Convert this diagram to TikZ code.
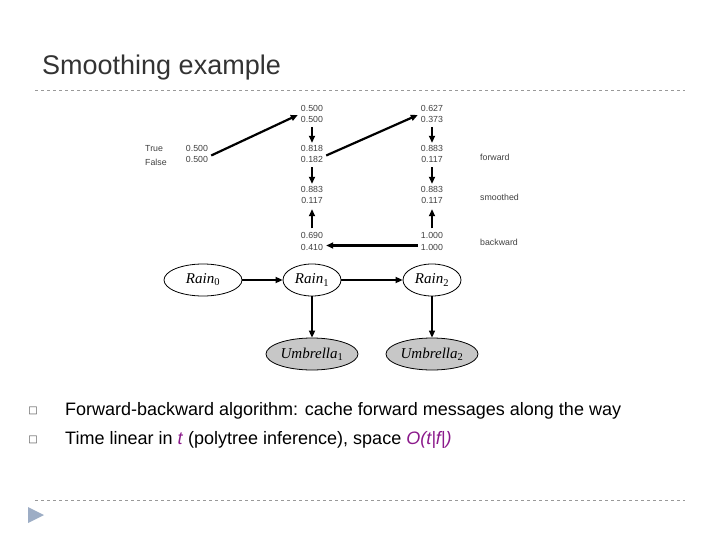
\documentclass[tikz,border=0pt]{standalone}
\usepackage{fontspec}
\setmainfont{Liberation Sans}
\newfontfamily\dejavu{DejaVu Sans}
\newfontfamily\tms{Liberation Serif}
\usetikzlibrary{shapes.geometric,arrows.meta}
\definecolor{pur}{HTML}{8B1A8B}
\definecolor{tri}{HTML}{9DADC5}
\begin{document}
\begin{tikzpicture}[x=1pt,y=-1pt,
  num/.style={font=\fontsize{8.8}{10}\selectfont, text=black!75, inner sep=0pt},
  lab/.style={font=\fontsize{8.8}{10}\selectfont, text=black!75, inner sep=0pt, anchor=west},
  arr/.style={line width=2.2pt, -{Triangle[length=7pt,width=6pt]}},
  rv/.style={ellipse, draw, line width=0.8pt, minimum width=80pt, minimum height=32pt, inner sep=0pt, font=\tms\itshape\fontsize{15}{16}\selectfont},
  ev/.style={rv, fill=black!22, minimum width=92pt},
  bul/.style={font=\fontsize{18}{20}\selectfont, anchor=west, inner sep=0pt}]
\useasboundingbox (0,0) rectangle (720,540);
\node[anchor=west, inner sep=0pt, font=\fontsize{27}{30}\selectfont, text=black!80] (title) at (42,68) {Smoothing example};
\draw[black!40, dashed, line width=0.6pt] (35,90) -- (685,90);
\draw[black!40, dashed, line width=0.6pt] (35,500) -- (685,500);
\fill[tri] (28,507) -- (44,515) -- (28,523) -- cycle;
% labels
\node[lab] (tr) at (145,149) {True};
\node[lab] (fa) at (145,162) {False};
\node[num] (p0) at (197,155.5) {\begin{tabular}{@{}c@{}}0.500\\[1pt]0.500\end{tabular}};
\node[num] (a1) at (312,115) {\begin{tabular}{@{}c@{}}0.500\\[1pt]0.500\end{tabular}};
\node[num] (f1) at (312,155.5) {\begin{tabular}{@{}c@{}}0.818\\[1pt]0.182\end{tabular}};
\node[num] (s1) at (312,196.5) {\begin{tabular}{@{}c@{}}0.883\\[1pt]0.117\end{tabular}};
\node[num] (b1) at (312,242.5) {\begin{tabular}{@{}c@{}}0.690\\[1pt]0.410\end{tabular}};
\node[num] (a2) at (432,115) {\begin{tabular}{@{}c@{}}0.627\\[1pt]0.373\end{tabular}};
\node[num] (f2) at (432,155.5) {\begin{tabular}{@{}c@{}}0.883\\[1pt]0.117\end{tabular}};
\node[num] (s2) at (432,196.5) {\begin{tabular}{@{}c@{}}0.883\\[1pt]0.117\end{tabular}};
\node[num] (b2) at (432,242.5) {\begin{tabular}{@{}c@{}}1.000\\[1pt]1.000\end{tabular}};
\node[lab] (lf) at (480,157) {forward};
\node[lab] (ls) at (480,197) {smoothed};
\node[lab] (lb) at (480,242) {backward};
\draw[arr] (p0.east) ++(3,0) -- ([xshift=-3pt]a1.west);
\draw[arr] (f1.east) ++(3,0) -- ([xshift=-3pt]a2.west);
\draw[arr] (a1) ++(0,12) -- ([yshift=2pt]f1.north);
\draw[arr] (f1) ++(0,12) -- ([yshift=2pt]s1.north);
\draw[arr] (b1) ++(0,-14) -- ([yshift=-2pt]s1.south);
\draw[arr] (a2) ++(0,12) -- ([yshift=2pt]f2.north);
\draw[arr] (f2) ++(0,12) -- ([yshift=2pt]s2.north);
\draw[arr] (b2) ++(0,-14) -- ([yshift=-2pt]s2.south);
\draw[arr] ([xshift=-3pt,yshift=-3pt]b2.west) -- ([xshift=3pt,yshift=-3pt]b1.east);
% network
\node[rv, minimum width=78pt] (r0) at (203,280) {Rain\textsubscript{\upshape 0}};
\node[rv, minimum width=58pt] (r1) at (312,280) {Rain\textsubscript{\upshape 1}};
\node[rv, minimum width=58pt] (r2) at (432,280) {Rain\textsubscript{\upshape 2}};
\node[ev] (u1) at (312,354) {Umbrella\textsubscript{\upshape 1}};
\node[ev] (u2) at (432,354) {Umbrella\textsubscript{\upshape 2}};
\draw[arr] (r0) -- (r1);
\draw[arr] (r1) -- (r2);
\draw[arr] (r1) -- (u1);
\draw[arr, line width=1.4pt] (r2) -- (u2);
% bullets
\node[font={\dejavu\fontsize{10}{12}\selectfont}, text=black!70, inner sep=0pt] (q1) at (33,411) {□};
\node[font={\dejavu\fontsize{10}{12}\selectfont}, text=black!70, inner sep=0pt] (q2) at (33,440) {□};
\node[bul] (t1) at (65,411) {Forward-backward algorithm: cache forward messages along the way};
\node[bul] (t2) at (65,440) {Time linear in \textcolor{pur}{\textit{t}} (polytree inference), space \textcolor{pur}{\textit{O(t|f|)}}};
\end{tikzpicture}
\end{document}
